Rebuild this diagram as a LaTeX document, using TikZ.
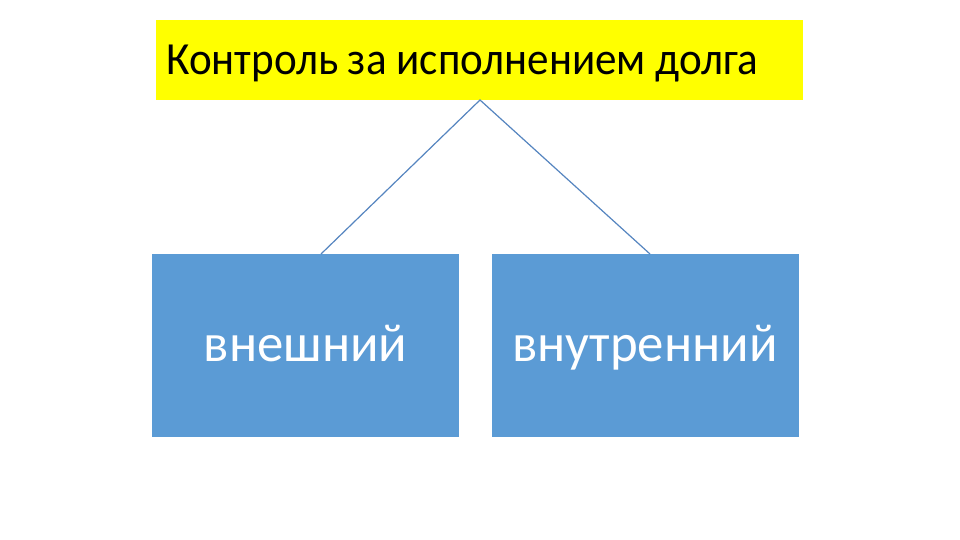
\documentclass[tikz,border=0pt]{standalone}
\usepackage{fontspec}
\setmainfont{Carlito}
\definecolor{ttlyellow}{HTML}{FFFF00}
\definecolor{boxblue}{HTML}{5B9BD5}
\definecolor{linkblue}{HTML}{5585C0}
\begin{document}
\begin{tikzpicture}[x=1pt,y=-1pt,
  ttlbox/.style={fill=ttlyellow,draw=none,minimum width=647pt,minimum height=80pt,inner sep=0pt},
  catbox/.style={fill=boxblue,draw=none,minimum width=307pt,minimum height=183pt,inner sep=0pt},
  ttltext/.style={anchor=base west,inner sep=0pt,font=\fontsize{46}{50}\selectfont,text=black},
  cattext/.style={anchor=base,inner sep=0pt,font=\fontsize{48}{52}\selectfont,text=white},
  link/.style={draw=linkblue,line width=1.2pt}]
\useasboundingbox (0,0) rectangle (960,540);
\fill[white] (0,0) rectangle (960,540);
\node[ttlbox] (title) at (479.5,60) {};
\node[ttltext] (titletext) at (166,75) {\scalebox{0.937}[1]{Контроль за исполнением долга}};
\node[catbox] (ext) at (305.5,345.5) {};
\node[catbox] (int) at (645,345.5) {};
\node[cattext] (exttext) at (305.5,361) {\scalebox{1.1}[1.12]{внешний}};
\node[cattext] (inttext) at (645,361) {\scalebox{1.1}[1.12]{внутренний}};
\coordinate (apex) at (480,100);
\coordinate (extend) at (321,254);
\coordinate (intend) at (650,254);
\draw[link] (extend) -- (apex) -- (intend);
\end{tikzpicture}
\end{document}
